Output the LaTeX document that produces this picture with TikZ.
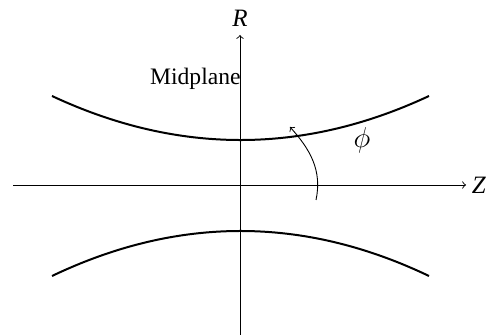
\documentclass[tikz,border=0pt]{standalone}
\usepackage{fontspec}
\setmainfont{Liberation Serif}
\begin{document}
\begin{tikzpicture}[x=0.5pt,y=0.5pt,
  axis/.style={line width=0.45pt,->},
  wall/.style={line width=1pt},
  lbl/.style={inner sep=0pt,font=\fontsize{11.8}{14}\selectfont}]
\useasboundingbox (0,0) rectangle (498,335);
% axes
\coordinate (zl) at (13,150);
\coordinate (zr) at (466,150);
\coordinate (rb) at (240,0);
\coordinate (rt) at (240,300);
\draw[axis] (zl) -- (zr);
\draw[axis] (rb) -- (rt);
\draw[line width=0.45pt,dash pattern=on 8pt off 2pt] (rb) -- (240,150);
\node[lbl] (Z) at (479,150) {\fontsize{12.5}{14}\selectfont\textit{Z}};
\node[lbl] (R) at (240,317) {\fontsize{12.5}{14}\selectfont\textit{R}};
\node[lbl,anchor=east] (mid) at (241,256) {Midplane};
% walls
\coordinate (u1) at (52,239);
\coordinate (u2) at (429,239);
\coordinate (l1) at (52,59);
\coordinate (l2) at (429,59);
\draw[wall] (u1) .. controls (177.7,180.3) and (303.3,180.3) .. (u2);
\draw[wall] (l1) .. controls (177.7,119) and (303.3,119) .. (l2);
% phi arrow
\coordinate (a1) at (316,135);
\coordinate (a2) at (290,208);
\draw[line width=0.45pt,->] (a1) to[out=78,in=-48] (a2);
\node[lbl] (phi) at (362,195) {\fontsize{15}{17}\selectfont$\phi$};
\end{tikzpicture}
\end{document}
